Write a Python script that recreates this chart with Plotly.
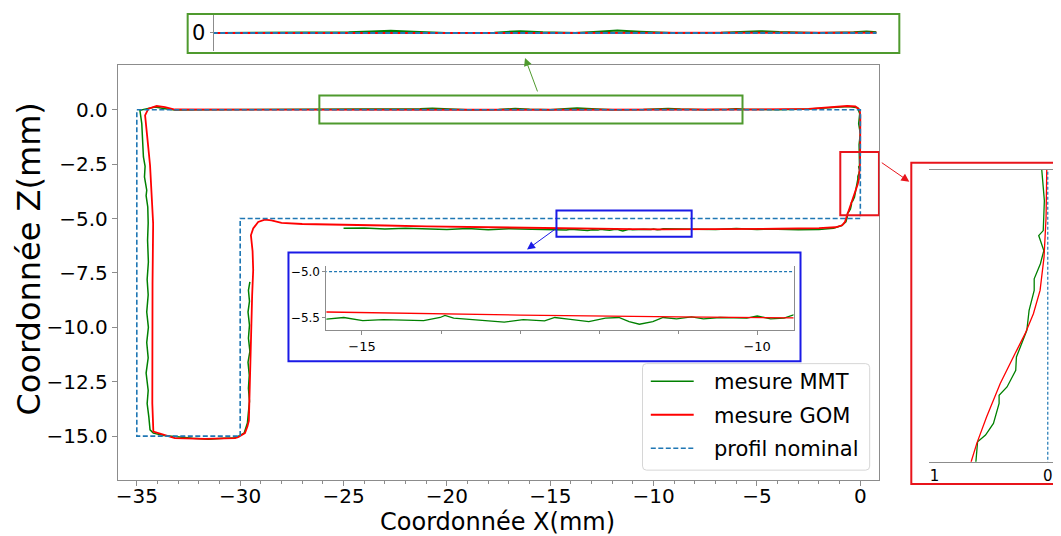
import plotly.graph_objects as go

W, H = 1061, 536
OX, OY = 8, 8  # page body margin of the html page


def px(x):
    return (x - OX) / W


def py(y):
    return 1 - (y - OY) / H


# ---------------- data ----------------
nom_x = [-35, 0, 0, -30, -30, -35, -35]
nom_z = [0, 0, -5, -5, -15, -15, 0]

mmt_x = [-29.53, -29.6, -29.55, -29.62, -29.55, -29.6, -29.53, -29.62, -29.56, -29.6, -29.55, -29.62,
         -29.65, -29.81, -30.26, -30.8, -31.54, -32.3, -33.16, -33.7, -34.2, -34.36,
         -34.42, -34.5, -34.45, -34.55, -34.45, -34.52, -34.44, -34.52, -34.45, -34.5, -34.44, -34.48,
         -34.45, -34.47, -34.55, -34.52, -34.63, -34.6, -34.68, -34.7, -34.76, -34.85,
         -34.52, -34.12, -33.63, -33.15,
         -32.0, -30.0, -28.0, -26.0, -24.0, -22.0, -21.3, -20.7, -20.0, -19.0, -17.5, -16.7, -16.0,
         -15.0, -14.3, -13.7, -13.0, -12.0, -10.5, -9.8, -9.3, -8.7, -7.5, -6.4, -6.0, -5.6, -4.0,
         -2.5, -1.45, -0.56, -0.13, -0.03, -0.08, 0.0, -0.06,
         -0.053, -0.03, -0.04, -0.08, -0.035, -0.065, -0.12, -0.12, -0.165, -0.185, -0.24, -0.277,
         -0.283, -0.36, -0.43, -0.43, -0.48, -0.55, -0.62, -0.63, -0.635,
         -0.7, -0.9, -1.3, -2.0, -3.0, -4.0, -5.0, -6.0, -7.0, -8.0, -9.0,
         -9.54, -9.66, -9.83, -10.0, -10.13, -10.47, -10.68, -10.83, -11.02, -11.19, -11.32, -11.49,
         -11.62, -11.75, -11.92, -12.13, -12.39, -12.56, -12.69, -12.96, -13.2, -13.46, -13.84,
         -13.95, -14.01, -14.22, -14.73, -14.99, -15.23, -15.45,
         -16.0, -17.0, -18.0, -19.0, -20.0, -21.0, -22.0, -23.0, -24.0, -25.0]
mmt_z = [-7.91, -8.3, -8.8, -9.3, -9.9, -10.5, -11.1, -11.6, -12.2, -12.8, -13.4, -14.0,
         -14.4, -14.86, -15.09, -15.1, -15.14, -15.1, -15.02, -14.97, -14.86, -14.71,
         -14.1, -13.5, -12.9, -12.1, -11.4, -10.7, -10.0, -9.3, -8.5, -7.8, -7.0, -6.0,
         -5.2, -4.47, -3.95, -3.7, -3.09, -2.6, -2.17, -1.5, -0.64, -0.03,
         0.05, 0.12, 0.05, -0.01,
         0.0, 0.01, 0.0, 0.0, 0.01, 0.02, 0.05, 0.07, 0.04, 0.0, 0.01, 0.06, 0.02,
         0.0, 0.04, 0.08, 0.04, 0.0, 0.01, 0.05, 0.06, 0.03, 0.0, 0.02, 0.05, 0.02, 0.0,
         0.03, 0.09, 0.15, 0.09, -0.18, -0.64, -1.1, -1.6,
         -1.95, -2.265, -2.573, -2.624, -2.778, -2.914, -3.068, -3.188, -3.393, -3.598, -3.769, -3.872,
         -4.008, -4.18, -4.265, -4.35, -4.555, -4.675, -4.744, -4.863, -4.949,
         -5.15, -5.32, -5.45, -5.5, -5.52, -5.49, -5.5, -5.46, -5.5, -5.49, -5.5,
         -5.467, -5.503, -5.51, -5.48, -5.503, -5.496, -5.51, -5.489, -5.51, -5.496, -5.54, -5.569,
         -5.54, -5.496, -5.503, -5.54, -5.514, -5.496, -5.532, -5.52, -5.547, -5.532, -5.503,
         -5.474, -5.496, -5.53, -5.52, -5.529, -5.496, -5.514,
         -5.5, -5.47, -5.51, -5.46, -5.5, -5.47, -5.45, -5.48, -5.44, -5.45]

gom_x = [-33.16, -30.0, -25.0, -20.0, -15.0, -10.0, -5.0, -2.5, -1.45, -0.64, -0.24, -0.03, 0.0, 0.01, 0.01,
         -0.009, -0.015, -0.033, -0.068, -0.127, -0.2, -0.289, -0.42, -0.54, -0.627, -0.677,
         -0.74, -0.88, -1.2, -2.0, -4.0, -6.0, -8.0, -9.54, -11.0, -13.0, -15.45, -17.0, -19.0, -21.0,
         -23.0, -25.0, -27.0, -28.0, -28.49, -28.81, -29.13, -29.37, -29.48, -29.4, -29.37, -29.42,
         -29.48, -29.53, -29.58, -29.65, -29.77, -30.1, -30.26, -31.7, -33.16, -33.96, -34.2,
         -34.25, -34.26, -34.24, -34.21, -34.28, -34.36, -34.5, -34.57, -34.6, -34.6, -34.44,
         -34.04, -33.64, -33.16]
gom_z = [0.01, 0.0, 0.0, 0.0, 0.0, 0.0, 0.01, 0.04, 0.12, 0.17, 0.15, 0.0, -0.26, -1.0, -1.6,
         -1.95, -2.436, -2.846, -3.188, -3.427, -3.632, -3.837, -4.145, -4.487, -4.76, -4.949,
         -5.15, -5.31, -5.4, -5.44, -5.47, -5.49, -5.5, -5.5, -5.49, -5.47, -5.437, -5.42, -5.39, -5.36,
         -5.32, -5.29, -5.25, -5.2, -5.08, -5.05, -5.16, -5.46, -5.77, -6.5, -7.37, -8.5,
         -10.5, -13.0, -14.3, -14.56, -14.86, -15.05, -15.09, -15.12, -15.09, -14.86, -14.79,
         -13.5, -11.0, -8.0, -5.23, -3.7, -2.55, -1.2, -0.57, -0.34, -0.26, 0.05,
         0.17, 0.12, 0.01]

x_ticks = [-35, -30, -25, -20, -15, -10, -5, 0]
z_ticks = [0, -2.5, -5, -7.5, -10, -12.5, -15]
inset_blue_xticks = [-15, -10]
inset_blue_zticks = [-5.0, -5.5]
inset_red_xticks = [-1, 0]
inset_red_xlabels = ["1", "0"]
names = ["mesure MMT", "mesure GOM", "profil nominal"]

GREEN = "#008000"
RED = "#ff0000"
NOM = "#1f77b4"
SPINE = "#8c8c8c"
BOX_G = "#4f9a2e"
BOX_B = "#1a1ae6"
BOX_R = "#e8141b"
FONT = "DejaVu Sans"

fig = go.Figure()

subplots = [
    ("x", "y", 1.5, 1.8, 1.6, "5px,2.5px"),
    ("x2", "y2", 2.0, 2.0, 2.0, "5px,2.5px"),
    ("x3", "y3", 1.3, 1.3, 1.2, "3px,2px"),
    ("x4", "y4", 1.3, 1.3, 1.2, "3px,2px"),
]
for i, (xa, ya, wg, wr, wn, dash) in enumerate(subplots):
    fig.add_trace(go.Scatter(x=mmt_x, y=mmt_z, mode="lines", name=names[0], xaxis=xa, yaxis=ya,
                             line=dict(color=GREEN, width=wg), showlegend=False))
    fig.add_trace(go.Scatter(x=gom_x, y=gom_z, mode="lines", name=names[1], xaxis=xa, yaxis=ya,
                             line=dict(color=RED, width=wr), showlegend=False))
    fig.add_trace(go.Scatter(x=nom_x, y=nom_z, mode="lines", name=names[2], xaxis=xa, yaxis=ya,
                             line=dict(color=NOM, width=wn, dash=dash), showlegend=False))

common = dict(showgrid=False, zeroline=False, linecolor=SPINE, linewidth=1, tickcolor=SPINE)

fig.update_layout(
    width=W, height=H,
    margin=dict(l=0, r=0, t=0, b=0),
    paper_bgcolor="white", plot_bgcolor="white",
    font=dict(family=FONT, color="black"),
    showlegend=False,
    xaxis=dict(domain=[px(116), px(879)], range=[-35.92, 0.92], anchor="y",
               tickvals=x_ticks, ticks="outside", ticklen=5, showline=True, mirror=True,
               tickfont=dict(size=20), ticklabelstandoff=-7,
               minor=dict(dtick=1, tick0=0, ticks="outside", ticklen=3, tickcolor=SPINE), **common),
    yaxis=dict(domain=[py(480), py(64)], range=[-17.02, 2.06], anchor="x",
               tickvals=z_ticks, tickformat=".1f", ticks="outside", ticklen=5, showline=True, mirror=True,
               tickfont=dict(size=20), **common),
    xaxis2=dict(domain=[px(212), px(876)], range=[-26.17, -5.7], anchor="y2",
                showticklabels=False, ticks="", showline=False, **common),
    yaxis2=dict(domain=[py(50), py(14)], range=[-0.6, 0.6], anchor="x2",
                tickvals=[0], ticks="outside", ticklen=3, showline=True,
                tickfont=dict(size=21), **common),
    xaxis3=dict(domain=[px(325), px(793)], range=[-15.45, -9.54], anchor="y3",
                tickvals=inset_blue_xticks, ticks="outside", ticklen=4, showline=True,
                tickfont=dict(size=13),
                minor=dict(dtick=1, tick0=0, ticks="outside", ticklen=3, tickcolor=SPINE), **common),
    yaxis3=dict(domain=[py(329.5), py(265)], range=[-5.63, -4.935], anchor="x3",
                tickvals=inset_blue_zticks, tickformat=".1f", ticks="outside", ticklen=3,
                showline=True, mirror=True, tickfont=dict(size=12), **common),
    xaxis4=dict(domain=[px(929), px(1061)], range=[-1.047, 0.117], anchor="y4",
                tickvals=inset_red_xticks, ticktext=inset_red_xlabels, ticks="",
                showline=True, mirror=True, tickfont=dict(size=15), **common),
    yaxis4=dict(domain=[py(461.7), py(169.3)], range=[-4.95, -1.95], anchor="x4",
                showticklabels=False, ticks="", showline=False, **common),
)

# zoom rectangles in the main axes
fig.add_shape(type="rect", xref="x", yref="y", x0=-26.17, x1=-5.7, y0=-0.63, y1=0.656,
              line=dict(color=BOX_G, width=2))
fig.add_shape(type="rect", xref="x", yref="y", x0=-14.7, x1=-8.16, y0=-5.84, y1=-4.63,
              line=dict(color=BOX_B, width=2))
fig.add_shape(type="rect", xref="x", yref="y", x0=-0.97, x1=0.9, y0=-4.85, y1=-1.94,
              line=dict(color=BOX_R, width=2))
# inset frames
fig.add_shape(type="rect", xref="paper", yref="paper", x0=px(186), x1=px(899), y0=py(52), y1=py(13),
              line=dict(color=BOX_G, width=2))
fig.add_shape(type="rect", xref="paper", yref="paper", x0=px(287), x1=px(800), y0=py(361), y1=py(252),
              line=dict(color=BOX_B, width=2))
fig.add_shape(type="rect", xref="paper", yref="paper", x0=px(911), x1=px(1080), y0=py(484), y1=py(162),
              line=dict(color=BOX_R, width=2))

# arrows
for (hx, hy, tx, ty, col) in [(524, 57, 537, 92, BOX_G),
                              (526, 249, 555, 228, BOX_B),
                              (909, 181, 880, 161, BOX_R)]:
    fig.add_annotation(x=px(hx), y=py(hy), xref="paper", yref="paper", ax=tx - hx, ay=ty - hy,
                       text="", showarrow=True, arrowhead=2, arrowsize=1.6, arrowwidth=1, arrowcolor=col)

# legend (frame, samples, labels)
lx0, lx1, ly0, ly1, r = 641.7, 869.3, 363.3, 470.0, 4
path = (f"M {px(lx0 + r)},{py(ly0)} L {px(lx1 - r)},{py(ly0)} Q {px(lx1)},{py(ly0)} {px(lx1)},{py(ly0 + r)} "
        f"L {px(lx1)},{py(ly1 - r)} Q {px(lx1)},{py(ly1)} {px(lx1 - r)},{py(ly1)} "
        f"L {px(lx0 + r)},{py(ly1)} Q {px(lx0)},{py(ly1)} {px(lx0)},{py(ly1 - r)} "
        f"L {px(lx0)},{py(ly0 + r)} Q {px(lx0)},{py(ly0)} {px(lx0 + r)},{py(ly0)} Z")
fig.add_shape(type="path", xref="paper", yref="paper", path=path,
              fillcolor="rgba(255,255,255,0.8)", line=dict(color="#d6d6d6", width=1))
legend_rows = [(381, GREEN, 1.5, "solid"), (414.5, RED, 1.8, "solid"), (448, NOM, 1.6, "5px,2.5px")]
for (ry, col, lw, dash), label in zip(legend_rows, names):
    fig.add_shape(type="line", xref="paper", yref="paper", x0=px(650), x1=px(693), y0=py(ry), y1=py(ry),
                  line=dict(color=col, width=lw, dash=dash))
    fig.add_annotation(x=px(711), y=py(ry + 1), xref="paper", yref="paper", text=label,
                       showarrow=False, xanchor="left", yanchor="middle",
                       font=dict(size=21, family=FONT, color="black"))

# axis titles
fig.add_annotation(x=px(496.5), y=py(521.5), xref="paper", yref="paper", text="Coordonnée X(mm)",
                   showarrow=False, xanchor="center", yanchor="middle",
                   font=dict(size=24, family=FONT, color="black"))
fig.add_annotation(x=px(27), y=py(258), xref="paper", yref="paper", text="Coordonnée Z(mm)",
                   showarrow=False, xanchor="center", yanchor="middle", textangle=-90,
                   font=dict(size=32, family=FONT, color="black"))

fig.write_html("out.html")
